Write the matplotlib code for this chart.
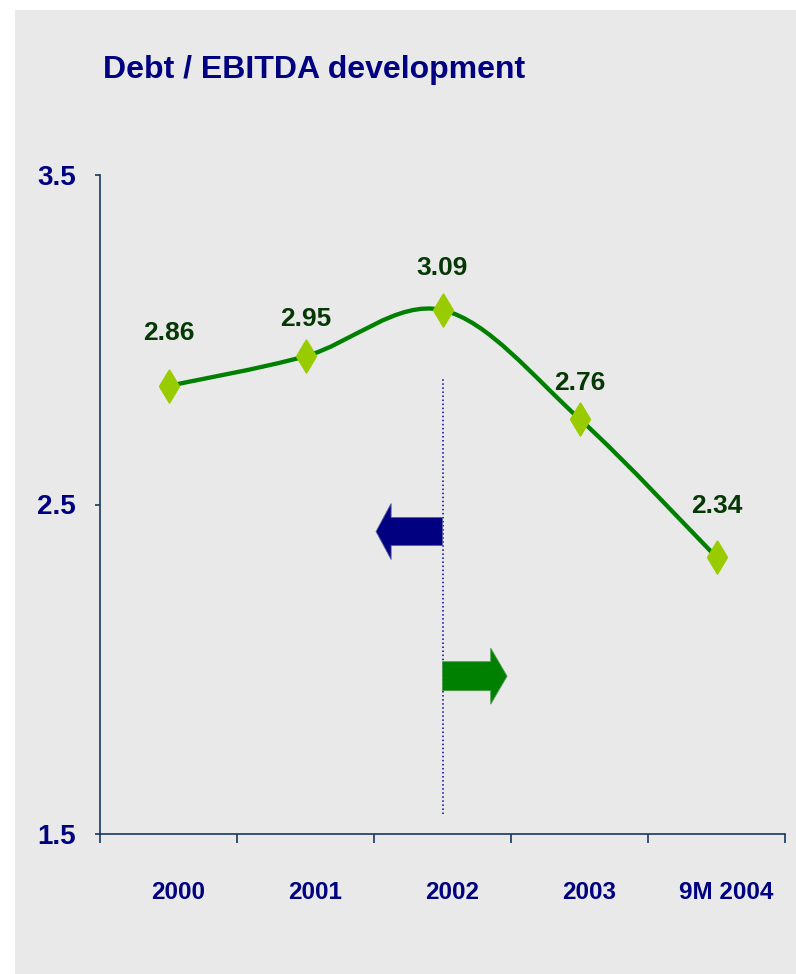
import matplotlib
matplotlib.use("Agg")
import matplotlib.pyplot as plt
import matplotlib.transforms as mtransforms
from matplotlib.patches import Rectangle, FancyArrow, PathPatch
from matplotlib.path import Path

plt.rcParams['font.family'] = ['Liberation Sans', 'DejaVu Sans']
plt.rcParams['font.weight'] = 'bold'

# Debt / EBITDA ratio per period
periods = ['2000', '2001', '2002', '2003', '9M 2004']
ratios = [2.86, 2.95, 3.09, 2.76, 2.34]
label_offsets = [38, 27, 30, 26, 37]   # points above each marker

navy = '#000080'
axis_col = '#17375E'
line_green = '#008000'
marker_green = '#99CC00'
label_green = '#063806'

fig = plt.figure(figsize=(7.96, 9.74), dpi=100)
fig.patch.set_facecolor('white')
fig.patches.append(Rectangle((15 / 796, 0), 1, 1 - 10 / 974, transform=fig.transFigure,
                             facecolor='#E9E9E9', edgecolor='none', zorder=-10))

ax = fig.add_axes([100 / 796, 1 - 834 / 974, 685 / 796, 659 / 974])
ax.set_facecolor('none')

xs = [i + 0.5 for i in range(len(periods))]

# smoothed line (Catmull-Rom style bezier through the points)
pts = list(zip(xs, ratios))
verts = [pts[0]]
codes = [Path.MOVETO]
for i in range(len(pts) - 1):
    p0 = pts[i - 1] if i > 0 else pts[i]
    p1 = pts[i]
    p2 = pts[i + 1]
    p3 = pts[i + 2] if i + 2 < len(pts) else pts[i + 1]
    c1 = (p1[0] + (p2[0] - p0[0]) / 6, p1[1] + (p2[1] - p0[1]) / 6)
    c2 = (p2[0] - (p3[0] - p1[0]) / 6, p2[1] - (p3[1] - p1[1]) / 6)
    verts += [c1, c2, p2]
    codes += [Path.CURVE4] * 3
ax.add_patch(PathPatch(Path(verts, codes), facecolor='none', edgecolor=line_green,
                       lw=3.1, capstyle='round', joinstyle='round', zorder=3))

diamond = [(0, 1), (0.6, 0), (0, -1), (-0.6, 0), (0, 1)]
ax.plot(xs, ratios, linestyle='none', marker=diamond, markersize=24,
        markerfacecolor=marker_green, markeredgecolor=marker_green, zorder=4)

for x, v, off in zip(xs, ratios, label_offsets):
    ax.annotate(f'{v:.2f}', (x, v), xytext=(0, off), textcoords='offset points',
                ha='center', va='center', fontsize=19, fontweight='bold', color=label_green)

# divider at 2002 with before/after arrows
ax.plot([2.5, 2.5], [1.56, 2.885], linestyle=':', color='#0000AA', lw=1.1, zorder=2)
ax.add_patch(FancyArrow(2.5, 2.418, -0.485, 0, width=0.085, head_width=0.17,
                        head_length=0.11, length_includes_head=True,
                        facecolor=navy, edgecolor='#5a5aa8', lw=0.6, zorder=3))
ax.add_patch(FancyArrow(2.5, 1.979, 0.471, 0, width=0.088, head_width=0.17,
                        head_length=0.119, length_includes_head=True,
                        facecolor=line_green, edgecolor='#4a9a4a', lw=0.6, zorder=3))

ax.set_xlim(0, 5)
ax.set_ylim(1.5, 3.5)
for side in ['top', 'right']:
    ax.spines[side].set_visible(False)
for side in ['left', 'bottom']:
    ax.spines[side].set_color(axis_col)
    ax.spines[side].set_linewidth(1.2)

ax.set_yticks([1.5, 2.5, 3.5])
ax.set_yticklabels(['1.5', '2.5', '3.5'])
ax.tick_params(axis='y', direction='out', length=3.6, width=1.2, color=axis_col,
               pad=13.5, labelsize=20, labelcolor=navy)

ax.set_xticks(range(6))
ax.set_xticklabels([])
ax.set_xticks(xs, minor=True)
ax.set_xticklabels(periods, minor=True)
ax.tick_params(axis='x', which='major', direction='out', length=6.5, width=1.2, color=axis_col)
ax.tick_params(axis='x', which='minor', length=0, pad=34, labelsize=17.5, labelcolor=navy)
shift = mtransforms.ScaledTranslation(10 / 100, 0, fig.dpi_scale_trans)
for lbl in ax.get_xticklabels(minor=True):
    lbl.set_fontweight('bold')
    lbl.set_transform(lbl.get_transform() + shift)
for lbl in ax.get_yticklabels():
    lbl.set_fontweight('bold')

fig.text(103 / 796, 1 - 70 / 974, 'Debt / EBITDA development', ha='left', va='center',
         fontsize=23, fontweight='bold', color=navy)

fig.savefig('out.png', dpi=100)
